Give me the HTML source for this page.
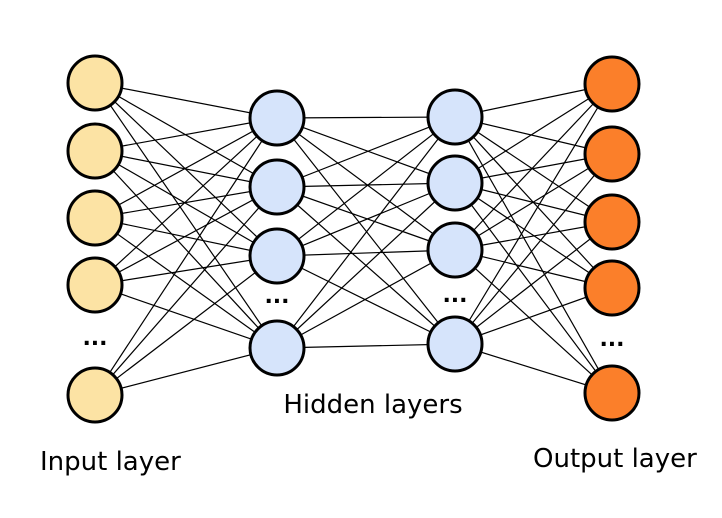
<!DOCTYPE html>
<html><head><style>body{margin:0;background:#fff}svg{display:block}</style></head><body>
<svg width="722" height="518" xmlns="http://www.w3.org/2000/svg" font-family="DejaVu Sans, Liberation Sans, sans-serif">
<g id="lines" stroke="#000" stroke-width="1.2"></g>
<g id="nodes" stroke="#000" stroke-width="3"></g>
<g font-size="26" fill="#000">
<text x="40" y="470">Input layer</text>
<text x="373" y="413" text-anchor="middle">Hidden layers</text>
<text x="533" y="467">Output layer</text>
</g>
<g font-size="22" font-weight="bold" fill="#000" text-anchor="middle">
<text x="95" y="345">...</text>
<text x="277" y="303">...</text>
<text x="455" y="302">...</text>
<text x="612" y="346">...</text>
</g>
<script>
var L=[{x:95,ys:[83,151,218,285,395],c:"#fce3a4"},{x:277,ys:[118,187,256,348],c:"#d6e4fb"},{x:455,ys:[117,183,250,344],c:"#d6e4fb"},{x:612,ys:[84,154,222,288,393],c:"#fb7f2a"}];
var ns="http://www.w3.org/2000/svg",lg=document.getElementById("lines"),ng=document.getElementById("nodes");
for(var i=0;i<3;i++)for(var a of L[i].ys)for(var b of L[i+1].ys){var l=document.createElementNS(ns,"line");l.setAttribute("x1",L[i].x);l.setAttribute("y1",a);l.setAttribute("x2",L[i+1].x);l.setAttribute("y2",b);lg.appendChild(l);}
for(var k of L)for(var y of k.ys){var c=document.createElementNS(ns,"circle");c.setAttribute("cx",k.x);c.setAttribute("cy",y);c.setAttribute("r",27);c.setAttribute("fill",k.c);ng.appendChild(c);}
</script>
</svg>
</body></html>
